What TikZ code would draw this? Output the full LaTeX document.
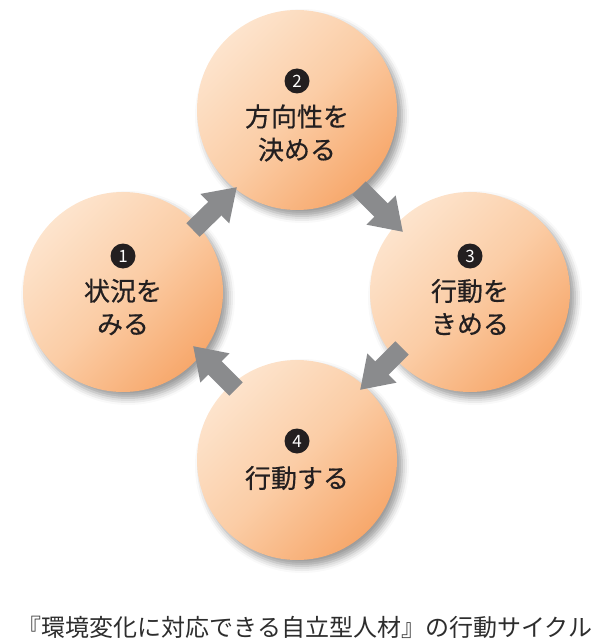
\documentclass[tikz,border=0pt]{standalone}
\usepackage{fontspec}
\setmainfont{Noto Sans CJK JP}
\newfontfamily\medfont{Noto Sans CJK JP}[FakeBold=0.5]
\usetikzlibrary{arrows.meta,shadows.blur}
\definecolor{peachL}{RGB}{253,228,205}
\definecolor{peachM}{RGB}{251,205,166}
\definecolor{peachD}{RGB}{247,168,108}
\definecolor{arrowgray}{RGB}{138,139,141}
\definecolor{txt}{RGB}{35,31,32}
\definecolor{captxt}{RGB}{45,45,45}
\tikzset{
  stage/.style={circle, minimum size=200pt, inner sep=0pt, shading=axis,
    top color=peachL, bottom color=peachD, middle color=peachM, shading angle=45,
    blur shadow={shadow xshift=5pt, shadow yshift=-6pt, shadow blur radius=7pt, shadow opacity=40}},
  badge/.style={circle, fill=txt, text=white, minimum size=25pt, inner sep=0pt,
    font=\fontsize{17}{17}\selectfont},
  stagetext/.style={align=center, text=txt, font=\medfont\fontsize{26}{33}\selectfont},
  flow/.style={draw=arrowgray, line width=19pt, -{Triangle[length=31pt,width=39pt]}},
  captext/.style={text=captxt, font=\fontsize{24}{28}\selectfont}
}
\begin{document}
\begin{tikzpicture}[x=1pt,y=-1pt]
\useasboundingbox (0,0) rectangle (596,644);
% circles
\node[stage] (cT) at (297,110) {};
\node[stage] (cL) at (123,292) {};
\node[stage] (cR) at (470,292) {};
\node[stage] (cB) at (297,460) {};
% badges and texts
\node[badge] (b1) at (123,256) {1};
\node[stagetext] (t1) at (123,307) {状況を\\みる};
\node[badge] (b2) at (297,81) {2};
\node[stagetext] (t2) at (297,133) {方向性を\\決める};
\node[badge] (b3) at (470,256) {3};
\node[stagetext] (t3) at (470,307) {行動を\\きめる};
\node[badge] (b4) at (297,441) {4};
\node[stagetext] (t4) at (297,478) {行動する};
% arrows
\coordinate (a1s) at (193,230); \coordinate (a1e) at (237,187);
\coordinate (a2s) at (359,188); \coordinate (a2e) at (403,232);
\coordinate (a3s) at (402,348); \coordinate (a3e) at (360,390);
\coordinate (a4s) at (236,389); \coordinate (a4e) at (193,346);
\draw[flow] (a1s) -- (a1e);
\draw[flow] (a2s) -- (a2e);
\draw[flow] (a3s) -- (a3e);
\draw[flow] (a4s) -- (a4e);
% caption
\node[captext] (cap) at (305,627) {『環境変化に対応できる自立型人材』の行動サイクル};
\end{tikzpicture}
\end{document}
